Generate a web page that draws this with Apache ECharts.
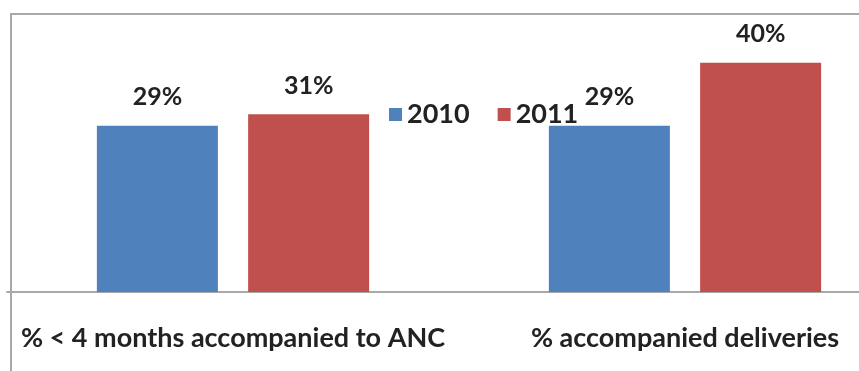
<!DOCTYPE html>
<html>
<head>
<meta charset="utf-8">
<script src="https://cdn.jsdelivr.net/npm/echarts@6/dist/echarts.min.js"></script>
<style>
  html, body { margin: 0; padding: 0; background: #fff; }
  #chart { width: 859px; height: 371px; }
</style>
</head>
<body>
<div id="chart"></div>
<script>
// categories and values
const categories = ['% < 4 months accompanied to ANC', '% accompanied deliveries'];
const years = ['2010', '2011'];
const values2010 = [29, 29];
const values2011 = [31, 40];

const FONT = 'Lato, "Open Sans", sans-serif';
const chart = echarts.init(document.getElementById('chart'));

const labelStyle = {
    show: true,
    position: 'top',
    distance: 16,
    formatter: p => p.value + '%',
    color: '#222',
    fontSize: 25,
    fontWeight: 'bold',
    fontFamily: FONT
};

const option = {
    animation: false,
    // the box the chart sits in (cut off on the right and bottom)
    graphic: [{
        type: 'rect',
        shape: { x: 11, y: 14, width: 900, height: 400 },
        style: { fill: 'none', stroke: '#a8a8a8', lineWidth: 2 },
        silent: true,
        z: -1
    }],
    legend: {
        data: years,
        left: 384,
        top: 96,
        icon: 'rect',
        itemWidth: 13,
        itemHeight: 13,
        itemGap: 28,
        textStyle: { fontSize: 27, fontWeight: 'bold', fontFamily: FONT, color: '#222' }
    },
    // plot is wider than the canvas: second category sits near the right edge
    grid: { left: 7, width: 904, top: 34, bottom: 79, outerBoundsMode: 'none' },
    xAxis: {
        type: 'category',
        data: categories,
        axisLine: { lineStyle: { color: '#a8a8a8', width: 2 } },
        axisTick: { show: false },
        axisLabel: { interval: 0, margin: 33, fontSize: 27, fontWeight: 'bold', fontFamily: FONT, color: '#222' }
    },
    yAxis: {
        type: 'value',
        min: 0,
        max: 45,
        show: false,
        splitLine: { show: false }
    },
    series: [
        {
            name: years[0],
            type: 'bar',
            data: values2010,
            barWidth: 121,
            barGap: '25%',
            itemStyle: { color: '#4f81bd' },
            label: labelStyle
        },
        {
            name: years[1],
            type: 'bar',
            data: values2011,
            barWidth: 121,
            itemStyle: { color: '#c0504d' },
            label: labelStyle
        }
    ]
};

chart.setOption(option);
</script>
</body>
</html>
